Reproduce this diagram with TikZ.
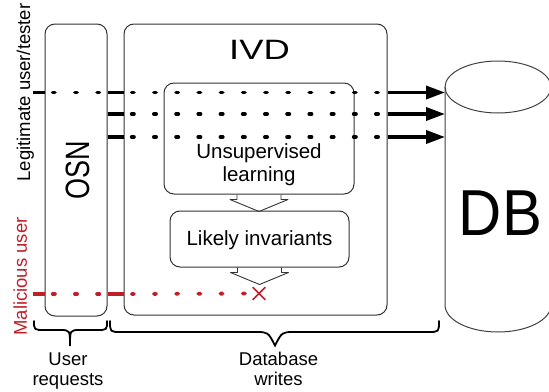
\documentclass[tikz,border=0pt]{standalone}
\usepackage{fontspec}
\setmainfont{Liberation Sans}
\usetikzlibrary{arrows.meta,shapes.misc}
\definecolor{malred}{RGB}{192,30,40}

\begin{document}
\begin{tikzpicture}[x=1pt,y=-1pt,
  box node/.style={draw=black!80,line width=1pt,rounded corners=10pt,inner sep=0pt},
  flow/.style={line width=3.8pt},
  dots/.style={line width=3.8pt,line cap=round,dash pattern=on 2.2pt off 20pt,dash phase=14pt},
  into/.style={line width=3.5pt,-{Triangle[length=19pt,width=13pt]}},
  hollow/.style={draw=black!80,line width=0.9pt,line join=round},
  brace line/.style={line width=1.8pt,line cap=round},
  label/.style={font=\fontsize{18.5}{19.5}\selectfont,inner sep=0pt,align=center}]

  \useasboundingbox (0,0) rectangle (549,391);

  % boxes
  \node[box node,minimum width=62pt,minimum height=292pt] (osn) at (76,170) {};
  \node[box node,minimum width=263pt,minimum height=291pt] (ivd) at (255.5,169.5) {};
  \node[box node,minimum width=190pt,minimum height=111pt] (learn) at (259,138.5) {};
  \node[box node,minimum width=179pt,minimum height=56pt] (inv) at (259.5,239) {};

  \node[anchor=base,inner sep=0pt,font=\fontsize{28}{30}\selectfont] (ivdtxt) at (259.5,59) {\scalebox{1.3}[1]{IVD}};
  \node[anchor=base,rotate=90,inner sep=0pt,font=\fontsize{27}{30}\selectfont] (osntxt) at (89,170) {\scalebox{1}[1.25]{OSN}};
  \node[anchor=base,inner sep=0pt,align=center,font=\fontsize{20.5}{23.5}\selectfont] (learntxt) at (259,181.5) {Unsupervised\\learning};
  \node[anchor=base,inner sep=0pt,font=\fontsize{20.5}{23.5}\selectfont] (invtxt) at (259.5,245.7) {Likely invariants};

  % database
  \coordinate (dbw) at (445,87);
  \draw[draw=black!75,line width=1pt] (498,87) ellipse [x radius=53pt,y radius=26pt];
  \draw[draw=black!75,line width=1pt] (dbw) -- (445,305) arc[start angle=180,end angle=360,x radius=53pt,y radius=27pt];
  \node[anchor=base,inner sep=0pt,font=\fontsize{65}{70}\selectfont] (dbtxt) at (500.5,235) {\scalebox{0.92}[1]{DB}};

  % users
  \node[label,anchor=base,rotate=90] (legtxt) at (30,92.5) {Legitimate user/tester};
  \node[label,anchor=base,rotate=90,text=malred] (maltxt) at (27,276.5) {Malicious user};

  \coordinate (leg) at (33,92.5);
  \coordinate (row2) at (0,114);
  \coordinate (row3) at (0,137);
  \coordinate (mal) at (33,294);

  \draw[flow] (leg) -- (osn.west |- leg);
  \draw[dots] (osn.west |- leg) -- (osn.east |- leg);
  \foreach \r in {leg,row2,row3} {
    \draw[flow] (osn.east |- \r) -- (ivd.west |- \r);
    \draw[dots] (ivd.west |- \r) -- (ivd.east |- \r);
    \draw[into] (ivd.east |- \r) -- (dbw |- \r);
  }

  \node[cross out,draw=malred,line width=1.6pt,minimum size=11pt,inner sep=0pt] (stop) at (259,293.5) {};
  \draw[flow,malred] (mal) -- (osn.west |- mal);
  \draw[dots,malred] (osn.west |- mal) -- (osn.east |- mal);
  \draw[flow,malred] (osn.east |- mal) -- (ivd.west |- mal);
  \draw[dots,malred] (ivd.west |- mal) -- (stop.west);

  % hollow arrows
  \foreach \n in {learn,inv}
    \draw[hollow] (\n.south) ++(-22,0) -- ++(0,5) -- ++(-7,0) -- ++(29,12) -- ++(29,-12) -- ++(-7,0) -- ++(0,-5);

  % braces
  \draw[brace line] (34,321) .. controls (34,330) .. (45,330) -- (60,330) .. controls (70,330) .. (70,346)
    .. controls (70,330) .. (80,330) -- (97,330) .. controls (107,330) .. (107,321);
  \draw[brace line] (110,321) .. controls (110,332) .. (121,332) -- (256,332) .. controls (268,332) .. (275,345.5)
    .. controls (282,332) .. (294,332) -- (428,332) .. controls (439,332) .. (439,321);

  \node[label,anchor=base] (reqtxt) at (68,385) {User\\requests};
  \node[label,anchor=base] (wrtxt) at (278.5,385) {Database\\writes};
\end{tikzpicture}
\end{document}
